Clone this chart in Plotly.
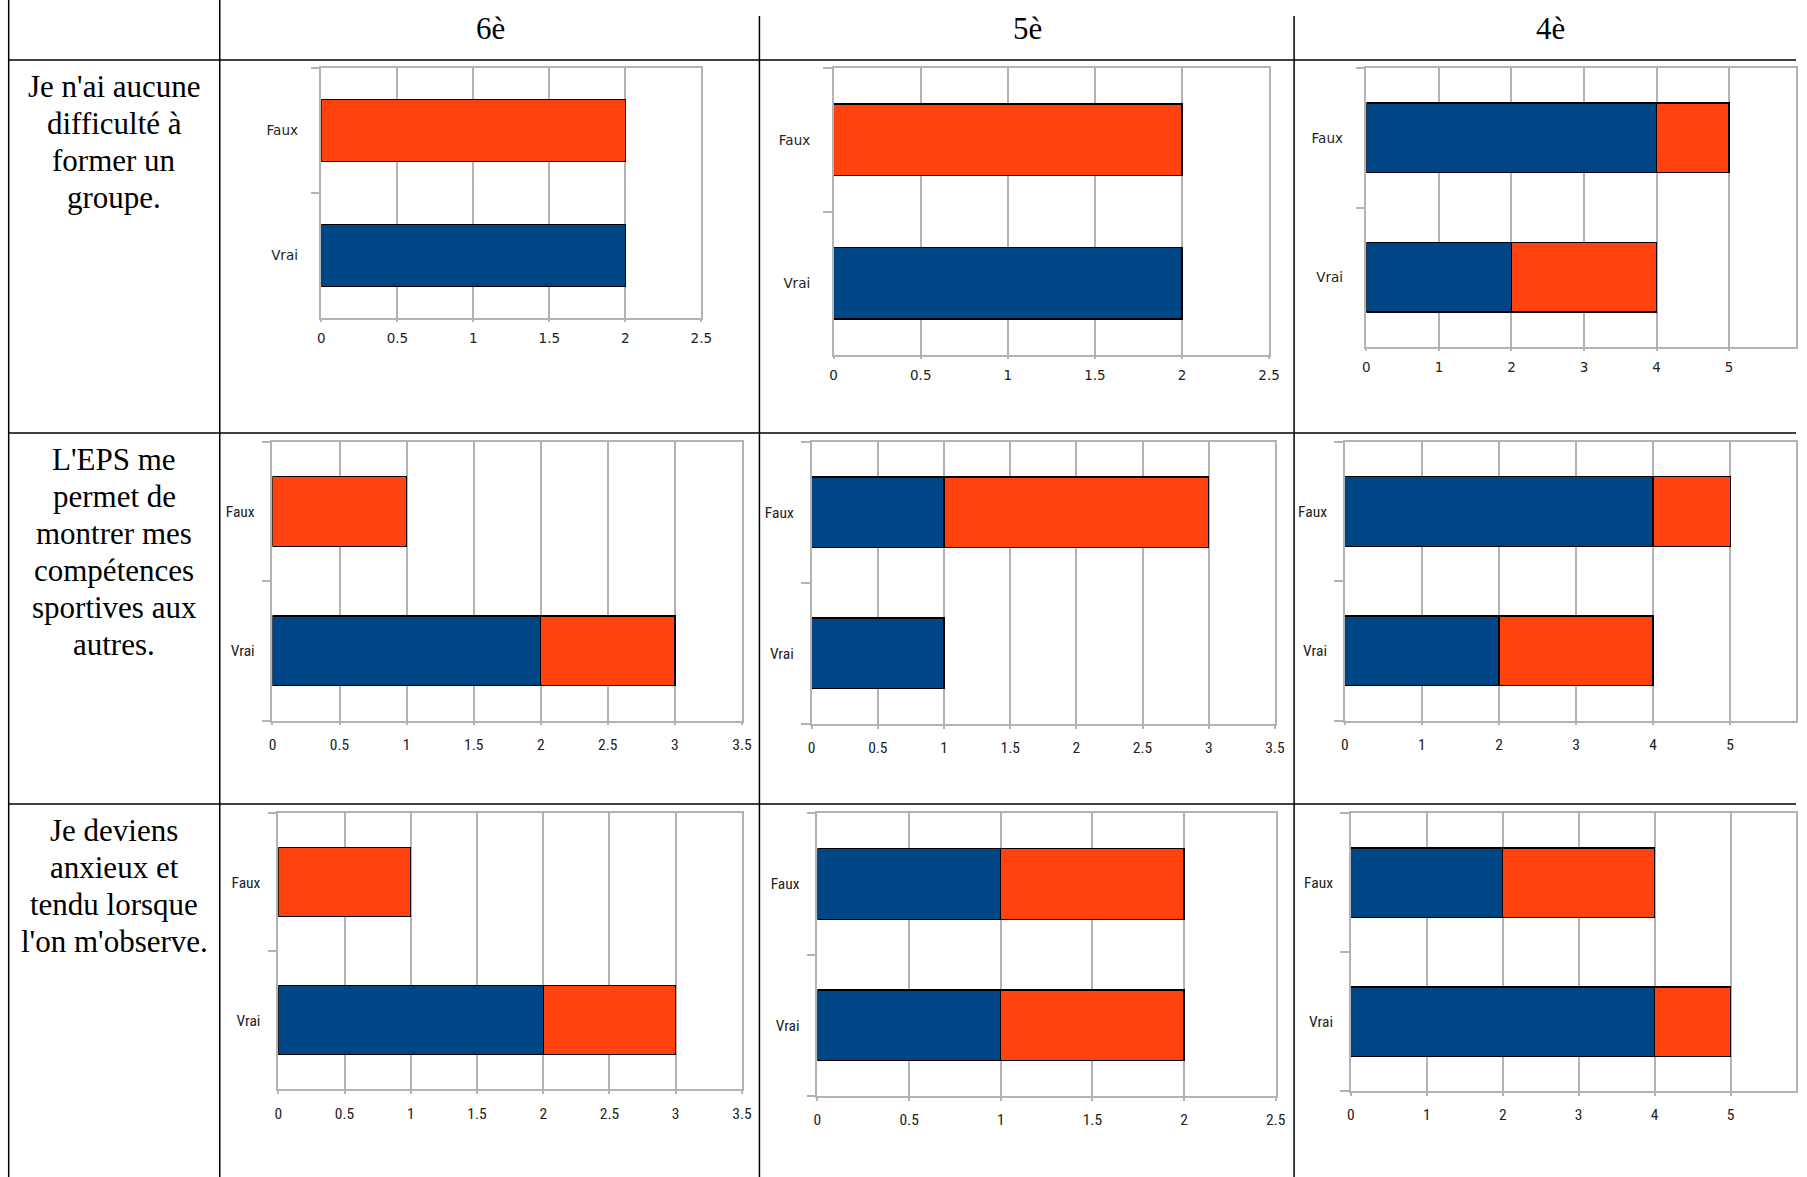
import plotly.graph_objects as go

W, H = 1807, 1177

# ---------------- data ----------------
classes = ["6è", "5è", "4è"]
questions = [
    ["Je n'ai aucune", "difficulté à", "former un", "groupe."],
    ["L'EPS me", "permet de", "montrer mes", "compétences", "sportives aux", "autres."],
    ["Je deviens", "anxieux et", "tendu lorsque", "l'on m'observe."],
]
categories = ["Vrai", "Faux"]

# [question][class] -> values for [Vrai, Faux]
blue_values = [
    [[2, 0], [2, 0], [2, 4]],
    [[2, 0], [1, 1], [2, 4]],
    [[2, 0], [1, 1], [4, 2]],
]
orange_values = [
    [[0, 2], [0, 2], [2, 1]],
    [[1, 1], [0, 2], [2, 1]],
    [[1, 1], [1, 1], [1, 2]],
]
x_max = [[2.5, 2.5, 6], [3.5, 3.5, 6], [3.5, 2.5, 6]]
x_dtick = [[0.5, 0.5, 1], [0.5, 0.5, 1], [0.5, 0.5, 1]]

# ---------------- layout (target pixels on screen) ----------------
boxes = [
    [(321.6, 701.4, 68.3, 317.7), (833.7, 1269.0, 68.3, 354.7), (1366.3, 1801.3, 68.3, 346.7)],
    [(272.7, 742.0, 441.7, 720.7), (811.7, 1274.8, 441.7, 724.0), (1344.7, 1807.0, 441.7, 720.7)],
    [(278.5, 742.0, 813.3, 1089.3), (817.5, 1275.5, 813.3, 1096.0), (1350.7, 1806.3, 813.3, 1091.0)],
]
BLUE = "#004586"
ORANGE = "#ff420e"
GRID = "#b3b3b3"
SERIF = "Liberation Serif, Times New Roman, serif"
WIDE = "DejaVu Sans, Verdana, sans-serif"
NARROW = "Liberation Sans Narrow, Arial Narrow, Roboto Condensed, Liberation Sans, sans-serif"

# the page is photographed with a slight horizontal squeeze; compensate
SX_OFF, SX_SCALE = 4.3, 0.9914
SCREEN_MAX = SX_OFF + SX_SCALE * W


def px_x(x):
    f = (x - SX_OFF) / SX_SCALE / W
    return min(max(f, 0.0), 1.0)


def px_y(y):
    return 1 - y / H


fig = go.Figure()
layout = {}
n = 0
for r in range(3):
    for c in range(3):
        n += 1
        sfx = "" if n == 1 else str(n)
        x0, x1, y0, y1 = boxes[r][c]
        rmax = x_max[r][c]
        if x1 > SCREEN_MAX:
            rmax = x_max[r][c] * (SCREEN_MAX - x0) / (x1 - x0)
            x1 = SCREEN_MAX
        fam = WIDE if r == 0 else NARROW
        fsize = 13.5 if r == 0 else 15.5
        fig.add_trace(go.Bar(
            y=categories, x=blue_values[r][c], orientation="h",
            marker=dict(color=BLUE, line=dict(color="#000000", width=1.3)),
            xaxis="x" + sfx, yaxis="y" + sfx, showlegend=False, name="Série 1"))
        fig.add_trace(go.Bar(
            y=categories, x=orange_values[r][c], orientation="h",
            marker=dict(color=ORANGE, line=dict(color="#000000", width=1.3)),
            xaxis="x" + sfx, yaxis="y" + sfx, showlegend=False, name="Série 2"))
        layout["xaxis" + sfx] = dict(
            domain=[px_x(x0), px_x(x1)], anchor="y" + sfx,
            range=[0, rmax], dtick=x_dtick[r][c], tick0=0,
            showgrid=True, gridcolor=GRID, gridwidth=1.5,
            showline=True, linecolor=GRID, linewidth=1.5, mirror=True,
            zeroline=False, ticks="outside", ticklen=3, tickcolor=GRID, tickwidth=1.5,
            tickfont=dict(family=fam, size=fsize, color="#222222"),
            ticklabelstandoff=4 if r == 0 else 6, fixedrange=True)
        layout["yaxis" + sfx] = dict(
            domain=[px_y(y1), px_y(y0)], anchor="x" + sfx,
            type="category", categoryorder="array", categoryarray=categories,
            showgrid=False, showline=True, linecolor=GRID, linewidth=1.5, mirror=True,
            zeroline=False, ticks="outside", tickson="boundaries", ticklen=9,
            tickcolor=GRID, tickwidth=1.5,
            tickfont=dict(family=fam, size=fsize, color="#222222"),
            ticklabelstandoff=19 if r == 0 else 13, fixedrange=True)

shapes = []
line = dict(color="#000000", width=1.5)
# vertical table lines
for x, ytop in [(9, 0), (220, 0), (759.5, 16), (1294, 16)]:
    shapes.append(dict(type="line", xref="paper", yref="paper",
                       x0=px_x(x), x1=px_x(x), y0=px_y(ytop), y1=0, line=line))
# horizontal table lines
for y in [60, 433, 804]:
    shapes.append(dict(type="line", xref="paper", yref="paper",
                       x0=px_x(9), x1=1, y0=px_y(y), y1=px_y(y), line=line))

annotations = []
header_x = [491, 1027, 1550]
for cls, hx in zip(classes, header_x):
    annotations.append(dict(text=cls, x=px_x(hx), y=px_y(28.8), xref="paper", yref="paper",
                            showarrow=False, xanchor="center", yanchor="middle",
                            font=dict(family=SERIF, size=31, color="#000000")))
row_tops = [60, 433, 804]
for q, top in zip(questions, row_tops):
    for i, txt in enumerate(q):
        annotations.append(dict(text=txt, x=px_x(114.6), y=px_y(top + 26.8 + i * 36.9),
                                xref="paper", yref="paper", showarrow=False,
                                xanchor="center", yanchor="middle",
                                font=dict(family=SERIF, size=31, color="#000000")))

fig.update_layout(
    width=W, height=H, autosize=False, margin=dict(l=0, r=0, t=0, b=0),
    paper_bgcolor="#ffffff", plot_bgcolor="#ffffff",
    barmode="stack", bargap=0.5, showlegend=False,
    shapes=shapes, annotations=annotations, **layout)

post = (
    "var de=document.documentElement;de.style.margin='0';de.style.padding='0';de.style.overflow='hidden';"
    "document.body.style.margin='0';document.body.style.padding='0';document.body.style.overflow='hidden';"
)
fig.write_html("out.html", config={"displayModeBar": False, "responsive": False},
               post_script=post)
